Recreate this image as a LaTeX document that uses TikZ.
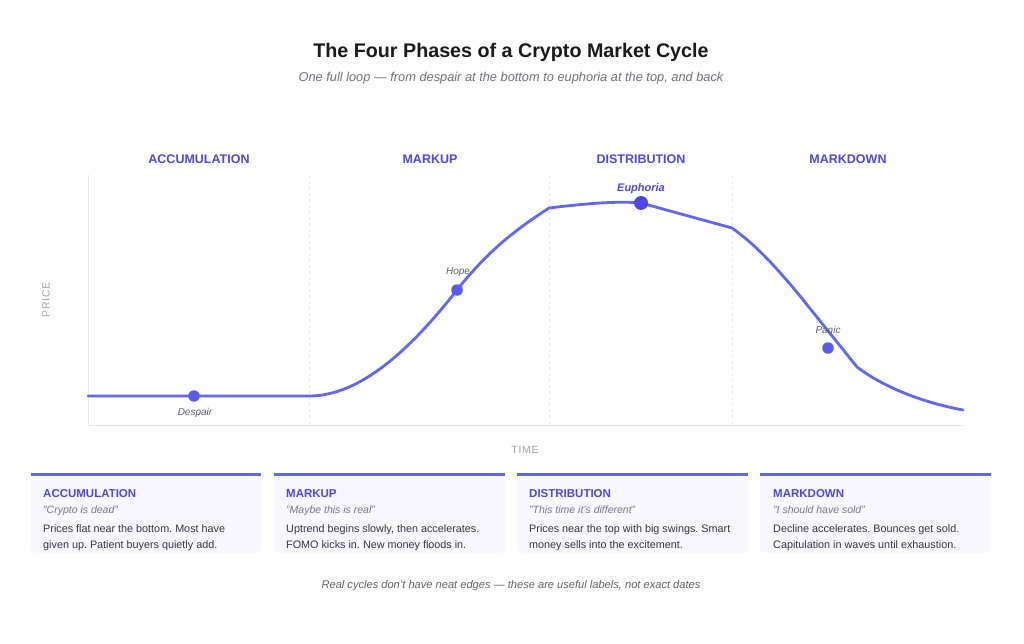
\documentclass[tikz,border=0pt]{standalone}
\usepackage{fontspec}
\setmainfont{Liberation Sans}
\frenchspacing
\definecolor{phase}{HTML}{4F46E5}
\definecolor{curve}{HTML}{6366F1}
\definecolor{dotc}{HTML}{5B5BEA}
\definecolor{axisc}{HTML}{E6E7EB}
\definecolor{mutedc}{HTML}{A0A3AA}
\definecolor{labelc}{HTML}{5F6168}
\definecolor{bodyc}{HTML}{33353A}
\definecolor{titlec}{HTML}{1A1A1A}
\definecolor{cardbg}{HTML}{F8F8FE}
\tikzset{
  phasehead/.style={inner sep=0, text=phase, font=\fontsize{12.5}{15}\selectfont\bfseries},
  ptlabel/.style={inner sep=0, text=labelc, font=\fontsize{10}{12}\selectfont\itshape},
  dot/.style={circle, fill=dotc, inner sep=0, minimum size=11.5pt},
  cardtitle/.style={inner sep=0, anchor=base west, text=phase, font=\fontsize{11.5}{14}\selectfont\bfseries},
  cardquote/.style={inner sep=0, anchor=base west, text=labelc!85, font=\fontsize{10.5}{13}\selectfont\itshape},
  cardbody/.style={inner sep=0, anchor=base west, text=bodyc, align=left, font=\fontsize{10.8}{16}\selectfont},
  divider/.style={axisc, line width=0.8pt, dash pattern=on 3pt off 3pt},
}
\begin{document}
\begin{tikzpicture}[x=1pt,y=-1pt]
\useasboundingbox[fill=white] (0,0) rectangle (1024,644);

% titles
\node[inner sep=0, text=titlec, font=\fontsize{19.7}{23}\selectfont\bfseries] (title) at (511,52) {The Four Phases of a Crypto Market Cycle};
\node[inner sep=0, text=labelc!90, font=\fontsize{12.8}{15}\selectfont\itshape] (subtitle) at (511,78) {One full loop — from despair at the bottom to euphoria at the top, and back};

% phase headers
\node[phasehead] (h1) at (199,159) {ACCUMULATION};
\node[phasehead] (h2) at (430,159) {MARKUP};
\node[phasehead] (h3) at (641,159) {DISTRIBUTION};
\node[phasehead] (h4) at (848,159) {MARKDOWN};

% axes
\coordinate (ytop) at (88,175);
\coordinate (origin) at (88,425);
\coordinate (xend) at (963,425);
\draw[axisc, line width=1pt] (ytop) -- (origin) -- (xend);
\foreach \x in {309,549,732} \draw[divider] (\x,175) -- (\x,425);

\node[inner sep=0, text=mutedc, rotate=90, font=\fontsize{10.5}{12}\selectfont] (price) at (46,300) {P\kern0.7pt R\kern0.7pt I\kern0.7pt C\kern0.7pt E};
\node[inner sep=0, text=mutedc, font=\fontsize{10.5}{12}\selectfont] (time) at (525,450) {T\kern0.7pt I\kern0.7pt M\kern0.7pt E};

% curve
\draw[curve, line width=2.8pt, line join=round, line cap=round]
  (88,396) -- (309,396)
  .. controls (360,396) and (410,350) .. (457,290)
  .. controls (490,248) and (520,227) .. (549,208)
  .. controls (590,203) and (620,201) .. (641,203)
  -- (732,228)
  .. controls (752,242) and (772,262) .. (800,296)
  -- (857,367)
  .. controls (882,386) and (920,402) .. (963,410);

% points
\node[dot] (despair) at (194,396) {};
\node[dot] (hope) at (457,290) {};
\node[dot, fill=phase, minimum size=14pt] (euphoria) at (641,203) {};
\node[dot] (panic) at (828,348) {};
\node[ptlabel] (despairl) at (195,413) {Despair};
\node[ptlabel] (hopel) at (458,272) {Hope};
\node[inner sep=0, text=phase, font=\fontsize{11}{13}\selectfont\bfseries\itshape] (euphorial) at (641,189) {Euphoria};
\node[ptlabel] (panicl) at (828,330) {Panic};

% cards
\foreach \a/\b in {31/261, 274/505, 517/748, 760/991}{
  \fill[cardbg, rounded corners=6pt] (\a,474) -- (\a,553) -- (\b,553) -- (\b,474) -- cycle;
  \fill[cardbg] (\a,474) rectangle (\b,482);
  \draw[curve, line width=2.6pt] (\a,474.5) -- (\b,474.5);
}

\node[cardtitle] (c1t) at (43,497) {ACCUMULATION};
\node[cardquote] (c1q) at (43,513) {"Crypto is dead"};
\node[cardbody] (c1b) at (43,548) {Prices flat near the bottom. Most have\\given up. Patient buyers quietly add.};

\node[cardtitle] (c2t) at (286,497) {MARKUP};
\node[cardquote] (c2q) at (286,513) {"Maybe this is real"};
\node[cardbody] (c2b) at (286,548) {Uptrend begins slowly, then accelerates.\\FOMO kicks in. New money floods in.};

\node[cardtitle] (c3t) at (529,497) {DISTRIBUTION};
\node[cardquote] (c3q) at (529,513) {"This time it's different"};
\node[cardbody] (c3b) at (529,548) {Prices near the top with big swings. Smart\\money sells into the excitement.};

\node[cardtitle] (c4t) at (773,497) {MARKDOWN};
\node[cardquote] (c4q) at (773,513) {"I should have sold"};
\node[cardbody] (c4b) at (773,548) {Decline accelerates. Bounces get sold.\\Capitulation in waves until exhaustion.};

\node[inner sep=0, text=labelc, font=\fontsize{11.1}{13}\selectfont\itshape] (footer) at (511,586) {Real cycles don't have neat edges — these are useful labels, not exact dates};
\end{tikzpicture}
\end{document}
